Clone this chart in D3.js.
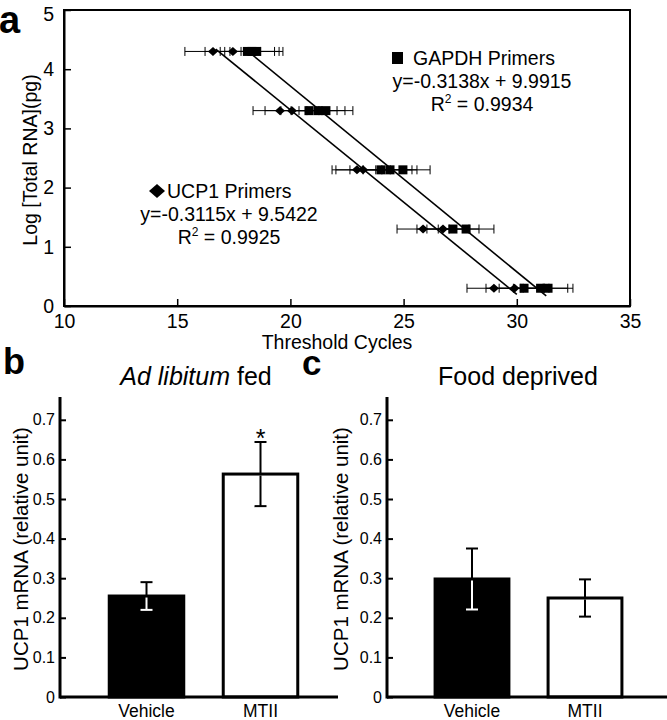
<!DOCTYPE html>
<html>
<head>
<meta charset="utf-8">
<script src="https://cdn.jsdelivr.net/npm/d3@7"></script>
<style>
  html, body { margin: 0; padding: 0; background: #fff; }
  svg { display: block; }
  text { font-family: "Liberation Sans", Arial, sans-serif; fill: #000; }
</style>
</head>
<body>
<svg id="chart" width="667" height="720"></svg>
<script>
// ---------------- DATA ----------------
// Panel a: standard curves  [log total RNA (pg), threshold cycle, SD]
const ucp1Points = [
  [4.3, 16.58, 1.24], [4.3, 17.46, 1.23],
  [3.3, 19.54, 1.19], [3.3, 20.07, 1.19],
  [2.3, 22.94, 1.10], [2.3, 23.21, 1.20],
  [1.3, 25.86, 1.15], [1.3, 26.74, 1.15],
  [0.3, 28.99, 1.19], [0.3, 29.90, 1.26]
];
const gapdhPoints = [
  [4.3, 18.10, 1.20], [4.3, 18.30, 1.20], [4.3, 18.50, 1.17],
  [3.3, 20.82, 1.24], [3.3, 21.22, 1.19], [3.3, 21.57, 1.19],
  [2.3, 24.00, 1.37], [2.3, 24.40, 1.19], [2.3, 24.97, 1.20],
  [1.3, 27.18, 1.15], [1.3, 27.76, 1.23],
  [0.3, 30.32, 1.10], [0.3, 31.05, 1.20], [0.3, 31.38, 1.10]
];
const ucp1Fit = { slope: -0.3115, intercept: 9.5422, r2: "0.9925", xFrom: 16.7, xTo: 30.0 };
const gapdhFit = { slope: -0.3138, intercept: 9.9915, r2: "0.9934", xFrom: 18.2, xTo: 31.3 };
const aXTicks = [10, 15, 20, 25, 30, 35];
const aYTicks = [0, 1, 2, 3, 4, 5];

// Panels b and c: UCP1 mRNA (relative unit)
const groups = ["Vehicle", "MTII"];
const fedMeans = [0.255, 0.563];
const fedErrors = [0.035, 0.081];
const deprivedMeans = [0.298, 0.250];
const deprivedErrors = [0.077, 0.047];
const barFills = ["#000", "#fff"];
const barYTicks = [0, 0.1, 0.2, 0.3, 0.4, 0.5, 0.6, 0.7];

// ---------------- DRAW ----------------
const svg = d3.select("#chart");
const FONT = 19.5;

// ===== Panel a =====
const ax = d3.scaleLinear().domain([10, 35]).range([64, 630]);
const ay = d3.scaleLinear().domain([0, 5]).range([306, 10]);
const ga = svg.append("g");

// frame
ga.append("rect").attr("x", ax(10)).attr("y", ay(5))
  .attr("width", ax(35) - ax(10)).attr("height", ay(0) - ay(5))
  .attr("fill", "none").attr("stroke", "#000").attr("stroke-width", 2);

const axB = ga.append("g").attr("transform", `translate(0,${ay(0)})`)
  .call(d3.axisBottom(ax).tickValues(aXTicks).tickSizeInner(-7).tickSizeOuter(0).tickPadding(8).tickFormat(d3.format("d")));
const axL = ga.append("g").attr("transform", `translate(${ax(10)},0)`)
  .call(d3.axisLeft(ay).tickValues(aYTicks).tickSizeInner(-7).tickSizeOuter(0).tickPadding(10).tickFormat(d3.format("d")));
[axB, axL].forEach(g => {
  g.select(".domain").attr("stroke-width", 2);
  g.selectAll(".tick line").attr("stroke-width", 1.5);
  g.selectAll(".tick text").attr("font-size", FONT).attr("font-family", "Liberation Sans, Arial, sans-serif");
});
axL.selectAll(".tick").filter(d => d === 0).select("text").attr("dy", "0.32em");
axL.selectAll(".tick").filter(d => d === 5).select("text").attr("dy", "0.52em");

// axis titles
ga.append("text").attr("x", 337).attr("y", 349).attr("text-anchor", "middle")
  .attr("font-size", FONT).text("Threshold Cycles");
ga.append("text").attr("transform", `translate(37,${(ay(0) + ay(5)) / 2 + 2}) rotate(-90)`)
  .attr("text-anchor", "middle").attr("font-size", FONT).text("Log [Total RNA](pg)");

// error bars
function errorBars(pts) {
  const g = ga.append("g").attr("stroke", "#000").attr("stroke-width", 1);
  pts.forEach(([l, c, s]) => {
    g.append("line").attr("x1", ax(c - s)).attr("x2", ax(c + s)).attr("y1", ay(l)).attr("y2", ay(l));
    [c - s, c + s].forEach(v => g.append("line").attr("x1", ax(v)).attr("x2", ax(v))
      .attr("y1", ay(l) - 4.5).attr("y2", ay(l) + 4.5));
  });
}
errorBars(ucp1Points);
errorBars(gapdhPoints);

// trend lines
[ucp1Fit, gapdhFit].forEach(f => {
  ga.append("line")
    .attr("x1", ax(f.xFrom)).attr("y1", ay(f.slope * f.xFrom + f.intercept))
    .attr("x2", ax(f.xTo)).attr("y2", ay(f.slope * f.xTo + f.intercept))
    .attr("stroke", "#000").attr("stroke-width", 1.6);
});

// markers
ga.append("g").selectAll("path").data(ucp1Points).join("path")
  .attr("transform", d => `translate(${ax(d[1])},${ay(d[0])})`)
  .attr("d", "M0,-4.5L5,0L0,4.5L-5,0Z").attr("fill", "#000");
ga.append("g").selectAll("rect").data(gapdhPoints).join("rect")
  .attr("x", d => ax(d[1]) - 4.5).attr("y", d => ay(d[0]) - 4.5)
  .attr("width", 9).attr("height", 9).attr("fill", "#000");

// equations / legends
function legendBlock(cx, y0, title, fit, marker, titleX) {
  const fmt = v => v.toFixed(4);
  if (marker === "square") {
    ga.append("rect").attr("x", titleX - 21).attr("y", y0 - 13).attr("width", 11).attr("height", 12).attr("fill", "#000");
  } else {
    ga.append("path").attr("transform", `translate(${titleX - 10},${y0 - 7})`)
      .attr("d", "M0,-7L8,0L0,7L-8,0Z").attr("fill", "#000");
  }
  ga.append("text").attr("x", titleX).attr("y", y0).attr("font-size", FONT).text(title);
  ga.append("text").attr("x", cx).attr("y", y0 + 23).attr("text-anchor", "middle").attr("font-size", FONT)
    .text(`y=${fmt(fit.slope)}x + ${fmt(fit.intercept)}`);
  const t = ga.append("text").attr("x", cx).attr("y", y0 + 46).attr("text-anchor", "middle").attr("font-size", FONT);
  t.append("tspan").text("R");
  t.append("tspan").attr("font-size", 12).attr("dy", -8).text("2");
  t.append("tspan").attr("dy", 8).text(" = " + fit.r2);
}
legendBlock(482, 65, "GAPDH Primers", gapdhFit, "square", 413);
legendBlock(229, 198, "UCP1 Primers", ucp1Fit, "diamond", 167);

// panel letters
svg.append("text").attr("x", -1).attr("y", 33).attr("font-size", 38).attr("font-weight", "bold").text("a");
svg.append("text").attr("x", 3).attr("y", 374).attr("font-size", 36).attr("font-weight", "bold").text("b");
svg.append("text").attr("x", 302).attr("y", 375).attr("font-size", 35).attr("font-weight", "bold").text("c");

// ===== Panels b & c =====
function barPanel(opts) {
  const { axisX, axisEnd, bandRange, means, errors, titleNodes, titleX, labelX, star } = opts;
  const g = svg.append("g");
  const y = d3.scaleLinear().domain([0, 0.75]).range([697, 400]);
  const x = d3.scaleBand().domain(groups).range(bandRange).paddingInner(0.32).paddingOuter(0.16);

  // bars
  g.selectAll("rect.bar").data(groups).join("rect").attr("class", "bar")
    .attr("x", (d, i) => x(d) + 1.5).attr("width", x.bandwidth() - 3)
    .attr("y", (d, i) => y(means[i])).attr("height", (d, i) => y(0) - y(means[i]))
    .attr("fill", (d, i) => barFills[i]).attr("stroke", "#000").attr("stroke-width", 3);

  // error bars
  groups.forEach((d, i) => {
    const cx = x(d) + x.bandwidth() / 2;
    const lowColor = barFills[i] === "#000" ? "#fff" : "#000";
    const hi = y(means[i] + errors[i]), lo = y(means[i] - errors[i]), m = y(means[i]);
    g.append("line").attr("x1", cx).attr("x2", cx).attr("y1", m).attr("y2", hi).attr("stroke", "#000").attr("stroke-width", 2);
    g.append("line").attr("x1", cx - 6).attr("x2", cx + 6).attr("y1", hi).attr("y2", hi).attr("stroke", "#000").attr("stroke-width", 2);
    g.append("line").attr("x1", cx).attr("x2", cx).attr("y1", m + 1.5).attr("y2", lo).attr("stroke", lowColor).attr("stroke-width", 2);
    g.append("line").attr("x1", cx - 6).attr("x2", cx + 6).attr("y1", lo).attr("y2", lo).attr("stroke", lowColor).attr("stroke-width", 2);
    if (star && star[i]) {
      g.append("text").attr("x", cx).attr("y", hi + 5).attr("text-anchor", "middle").attr("font-size", 25).text("*");
    }
  });

  // axes
  const yAxis = g.append("g").attr("transform", `translate(${axisX},0)`)
    .call(d3.axisLeft(y).tickValues(barYTicks).tickSizeInner(-6).tickSizeOuter(0).tickPadding(5)
      .tickFormat(d => d === 0 ? "0" : d.toFixed(1)));
  yAxis.select(".domain").remove();
  yAxis.selectAll(".tick line").attr("stroke-width", 2);
  yAxis.selectAll(".tick text").attr("font-size", 16).attr("font-family", "Liberation Sans, Arial, sans-serif");
  g.append("line").attr("x1", axisX).attr("x2", axisX).attr("y1", 397).attr("y2", y(0) + 1.5)
    .attr("stroke", "#000").attr("stroke-width", 3);
  g.append("line").attr("x1", axisX).attr("x2", axisEnd).attr("y1", y(0)).attr("y2", y(0))
    .attr("stroke", "#000").attr("stroke-width", 3);

  // category labels
  groups.forEach(d => {
    g.append("text").attr("x", x(d) + x.bandwidth() / 2).attr("y", 716.5).attr("text-anchor", "middle")
      .attr("font-size", 17.5).text(d);
  });

  // y title
  g.append("text").attr("transform", `translate(${labelX},549) rotate(-90)`).attr("text-anchor", "middle")
    .attr("font-size", 20.5).text("UCP1 mRNA (relative unit)");

  // panel title
  const t = g.append("text").attr("x", titleX).attr("y", 385).attr("text-anchor", "middle").attr("font-size", 25);
  titleNodes.forEach(n => t.append("tspan").attr("font-style", n.italic ? "italic" : "normal").text(n.text));
}

barPanel({
  axisX: 60, axisEnd: 338, bandRange: [89.5, 317.5],
  means: fedMeans, errors: fedErrors,
  titleNodes: [{ text: "Ad libitum", italic: true }, { text: " fed", italic: false }],
  titleX: 196, labelX: 28, star: [false, true]
});
barPanel({
  axisX: 387, axisEnd: 667, bandRange: [415.5, 641.5],
  means: deprivedMeans, errors: deprivedErrors,
  titleNodes: [{ text: "Food deprived", italic: false }],
  titleX: 518, labelX: 348, star: null
});
</script>
</body>
</html>
